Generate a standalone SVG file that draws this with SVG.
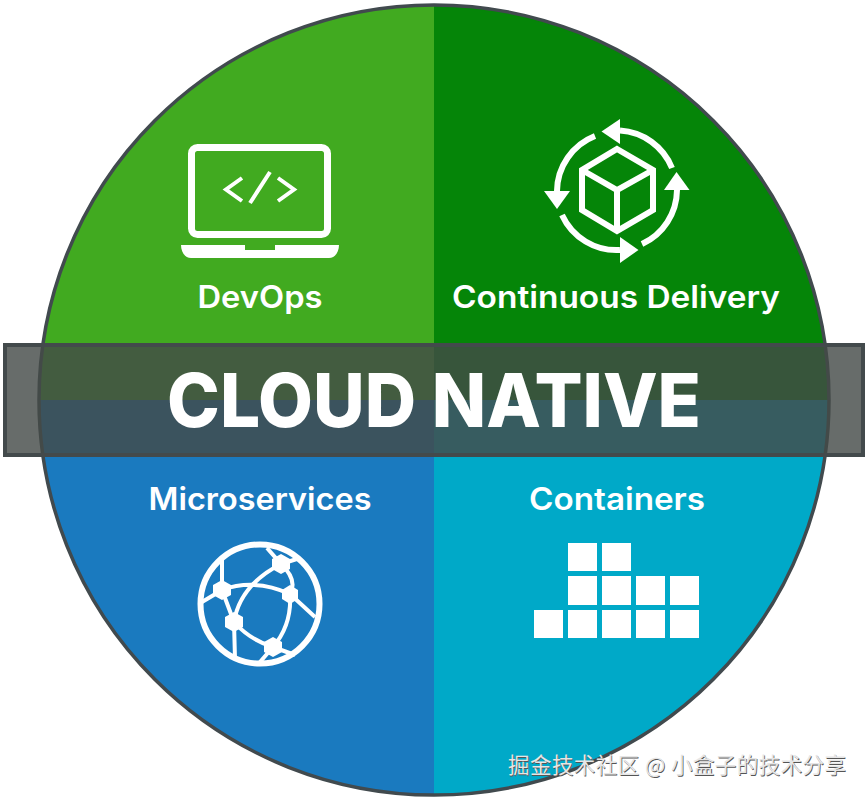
<svg xmlns="http://www.w3.org/2000/svg" width="868" height="800" viewBox="0 0 868 800">
<style>
.lbl{font-family:Inter,"Noto Sans","Liberation Sans",sans-serif;font-weight:600;font-size:31px;fill:#fff;text-anchor:middle}
.ico{fill:none;stroke:#fff;stroke-width:6}
.fil{fill:#fff;stroke:none}
.box{fill:#fff}
.wm{font-family:"Noto Sans CJK SC","Noto Sans",sans-serif;font-size:21.5px}
</style>
<defs><clipPath id="c"><circle cx="434" cy="400" r="395"/></clipPath></defs>
<g id="quadrants" clip-path="url(#c)">
<rect x="30" y="0" width="404" height="400" fill="#41aa20"/>
<rect x="434" y="0" width="404" height="400" fill="#058508"/>
<rect x="30" y="400" width="404" height="400" fill="#1a7abf"/>
<rect x="434" y="400" width="404" height="400" fill="#00a9c8"/>
</g>
<circle id="rim" cx="434" cy="400" r="395" fill="none" stroke="#414a4e" stroke-width="3.500"/>
<g id="banner">
<rect x="5" y="345" width="858" height="110" fill="#444a48" fill-opacity=".81" stroke="#434a4c" stroke-width="4"/>
<text x="434" y="427" font-family="Inter,'Noto Sans','Liberation Sans',sans-serif" font-weight="800" font-size="74" fill="#fff" text-anchor="middle" textLength="534" lengthAdjust="spacingAndGlyphs">CLOUD NATIVE</text>
</g>
<g id="devops">
<rect class="ico" x="191.500" y="147.500" width="136" height="87" rx="6" style="stroke-width:7"/>
<path class="fil" d="M181 245H245V250H275V245H339C339 252 335 258 329 258H191C185 258 181 252 181 245Z"/>
<path class="ico" style="stroke-width:4" d="M242 178L226 189.500L242 201M270 172L250 203M278 178L294 189.500L278 201"/>
<text class="lbl" x="260" y="308" textLength="125" lengthAdjust="spacingAndGlyphs">DevOps</text>
</g>
<g id="continuous-delivery">
<path class="ico" style="stroke-width:6" d="M617 149L653 170V210L617 231L582 210V170ZM582 170L617 190L653 170M617 190V231"/>
<path class="ico" d="M620 130.500A60 60 0 0 1 672 168"/>
<path class="fil" d="M601.500 131.500L620 119V144Z"/>
<path class="ico" d="M677 190A60 60 0 0 1 642 244"/>
<path class="fil" d="M676.500 172L689.500 190H664Z"/>
<path class="ico" d="M620 250A60 60 0 0 1 562 215"/>
<path class="fil" d="M638.500 250L620 237V263Z"/>
<path class="ico" d="M557 191A60 60 0 0 1 595 136"/>
<path class="fil" d="M557 209L544 191H570Z"/>
<text class="lbl" x="616" y="308" textLength="328" lengthAdjust="spacingAndGlyphs">Continuous Delivery</text>
</g>
<g id="microservices">
<text class="lbl" x="260" y="510" textLength="223" lengthAdjust="spacingAndGlyphs">Microservices</text>
<circle class="ico" cx="260" cy="604" r="59.500"/>
<path class="ico" style="stroke-width:4" d="M222 558V590L202 602M222 590Q255 578 290 594M222 590L234 622L235 659M234 622Q240 585 281 564L267 548M281 564L300 558M281 564Q298 580 290 594Q292 625 273 647L260 662M290 594L315 617M234 622Q250 640 273 647L295 655"/>
<g class="fil">
<polygon points="281,554 290,559 290,569 281,574 272,569 272,559"/>
<polygon points="222,580 231,585 231,595 222,600 213,595 213,585"/>
<polygon points="290,585 298,590 298,599 290,604 282,599 282,590"/>
<polygon points="234,612 243,617 243,627 234,632 225,627 225,617"/>
<polygon points="273,637 282,642 282,652 273,657 264,652 264,642"/>
</g>
</g>
<g id="containers">
<text class="lbl" x="617" y="510" textLength="176" lengthAdjust="spacingAndGlyphs">Containers</text>
<rect class="box" x="568" y="543" width="29" height="28"/><rect class="box" x="602" y="543" width="29" height="28"/>
<rect class="box" x="568" y="576" width="29" height="29"/><rect class="box" x="602" y="576" width="29" height="29"/><rect class="box" x="636" y="576" width="29" height="29"/><rect class="box" x="670" y="576" width="29" height="29"/>
<rect class="box" x="534" y="610" width="29" height="28"/><rect class="box" x="568" y="610" width="29" height="28"/><rect class="box" x="602" y="610" width="29" height="28"/><rect class="box" x="636" y="610" width="29" height="28"/><rect class="box" x="670" y="610" width="29" height="28"/>
</g>
<g id="watermark">
<text class="wm" x="508.800" y="773.800" fill="#555" textLength="338">掘金技术社区 @ 小盒子的技术分享</text>
<text class="wm" x="508" y="773" fill="#e6e6e6" textLength="338">掘金技术社区 @ 小盒子的技术分享</text>
</g>
</svg>
